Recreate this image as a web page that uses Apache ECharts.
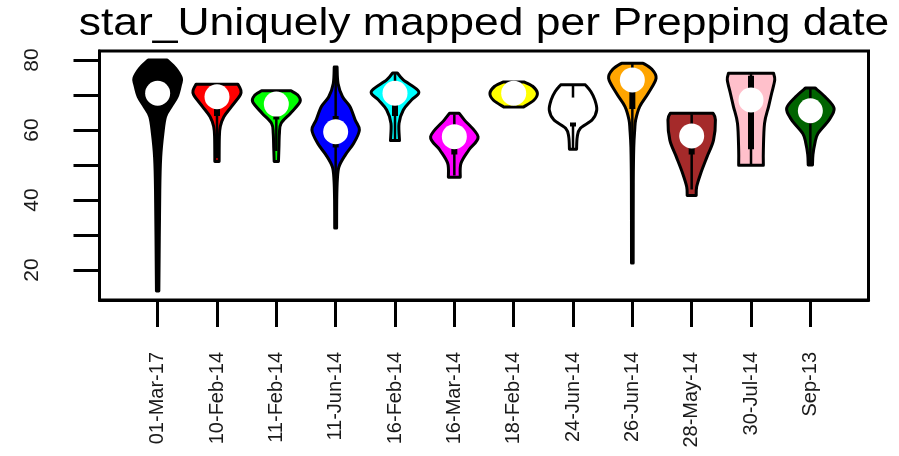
<!DOCTYPE html>
<html>
<head>
<meta charset="utf-8">
<script src="https://cdn.jsdelivr.net/npm/echarts@6/dist/echarts.min.js"></script>
<style>
html,body{margin:0;padding:0;background:#fff;}
#chart{width:899px;height:456px;}
</style>
</head>
<body>
<div id="chart"></div>
<script>
// ---- data ----
const titleText = 'star_Uniquely mapped per Prepping date';
const categories = ['01-Mar-17','10-Feb-14','11-Feb-14','11-Jun-14','16-Feb-14','16-Mar-14','18-Feb-14','24-Jun-14','26-Jun-14','28-May-14','30-Jul-14','Sep-13'];
const yTicks = [20, 30, 40, 50, 60, 70, 80];
const yLabels = [20, 40, 60, 80];
const medians      = [70.5, 69.5, 67.4, 59.5, 70.5, 58.1, 70.5, 65.7, 74.3, 58.3, 68.6, 65.5];
const q1s          = [66.0, 64.0, 63.0, 55.0, 64.0, 53.0, 69.0, 61.0, 66.0, 53.0, 54.5, 62.0];
const q3s          = [74.0, 72.0, 70.0, 64.0, 72.5, 61.0, 72.0, 69.0, 77.0, 61.0, 75.5, 68.0];
const whiskerLow   = [55.0, 52.0, 54.0, 44.0, 57.0, 47.0, 67.0, 54.5, 55.0, 43.0, 50.0, 50.0];
const whiskerHigh  = [80.0, 73.0, 71.0, 77.0, 76.0, 64.5, 73.5, 73.0, 79.0, 64.5, 76.0, 72.0];
// density profile per violin: [value, relative density]
const density01Mar17 = [[14,0.05],[42.9,0.09],[52.4,0.13],[59,0.22],[63.8,0.33],[66.7,0.57],[69.5,0.82],[72.9,0.96],[74.8,1.0],[77.6,0.76],[80,0.4]];
const density10Feb14 = [[51,0.09],[58,0.1],[61,0.14],[63.8,0.29],[66.7,0.61],[70,0.98],[71.5,1.0],[73.1,0.88]];
const density11Feb14 = [[51,0.09],[55,0.11],[59,0.13],[61.9,0.2],[64.8,0.6],[68.1,1.0],[70,0.9],[71.2,0.62]];
const density11Jun14 = [[32,0.04],[40,0.045],[45.7,0.07],[49.5,0.14],[52.9,0.41],[56.2,0.76],[60,1.0],[62.9,0.82],[66.7,0.6],[69.5,0.29],[73.3,0.1],[78,0.06]];
const density16Feb14 = [[57,0.19],[61.9,0.17],[65.7,0.35],[68.6,0.7],[71,1.0],[74.3,0.35],[76.3,0.1]];
const density16Mar14 = [[46.5,0.25],[50.5,0.28],[54.3,0.61],[58.1,1.0],[62.9,0.42],[64.8,0.2]];
const density18Feb14 = [[66.6,0.42],[68.5,0.85],[70.5,1.0],[72.5,0.8],[73.7,0.45]];
const density24Jun14 = [[54.5,0.15],[58.1,0.18],[60.5,0.31],[62.9,0.81],[65.7,1.0],[68.6,0.92],[71,0.75],[72.9,0.52]];
const density26Jun14 = [[22,0.035],[45,0.04],[55,0.06],[60,0.1],[62.9,0.14],[66.7,0.31],[70.5,0.67],[74.8,1.0],[77.5,0.8],[79.1,0.45]];
const density28May14 = [[41.3,0.19],[43.8,0.21],[47.6,0.38],[52.4,0.65],[57.1,0.92],[62.9,1.0],[64.8,0.9]];
const density30Jul14 = [[49.9,0.52],[54.3,0.52],[61.9,0.57],[66.7,0.74],[70.5,0.87],[74.3,1.0],[76.2,0.95]];
const densitySep13   = [[50,0.09],[53,0.11],[56.2,0.19],[59,0.32],[62.9,0.79],[66.2,1.0],[69.5,0.62],[72,0.2]];
const densities = [density01Mar17, density10Feb14, density11Feb14, density11Jun14, density16Feb14, density16Mar14,
                   density18Feb14, density24Jun14, density26Jun14, density28May14, density30Jul14, densitySep13];
const fillColors = ['#000000','#ff0000','#00ff00','#0000ff','#00ffff','#ff00ff','#ffff00','#ffffff','#ffa500','#a52a2a','#ffc0cb','#006400'];

// ---- chart ----
const chart = echarts.init(document.getElementById('chart'), null, {renderer: 'canvas'});
const FONT = '"Liberation Sans", Arial, Helvetica, sans-serif';
const xPositions = categories.map((c, i) => i + 1);

// smooth outline through given screen points (Catmull-Rom as cubic Beziers)
function splineSegs(pts) {
  let d = '';
  for (let i = 0; i < pts.length - 1; i++) {
    const p0 = pts[i - 1] || pts[i], p1 = pts[i], p2 = pts[i + 1], p3 = pts[i + 2] || pts[i + 1];
    const c1 = [p1[0] + (p2[0] - p0[0]) / 6, p1[1] + (p2[1] - p0[1]) / 6];
    const c2 = [p2[0] - (p3[0] - p1[0]) / 6, p2[1] - (p3[1] - p1[1]) / 6];
    d += ' C' + c1[0].toFixed(2) + ' ' + c1[1].toFixed(2) + ' ' + c2[0].toFixed(2) + ' ' + c2[1].toFixed(2) + ' ' + p2[0].toFixed(2) + ' ' + p2[1].toFixed(2);
  }
  return d;
}

const option = {
  animation: false,
  backgroundColor: '#ffffff',
  graphic: [{
    type: 'text',
    x: 484, y: 25,
    scaleX: 1.17,
    style: {
      text: titleText,
      fontFamily: FONT,
      fontSize: 38,
      fill: '#000',
      textAlign: 'center',
      textVerticalAlign: 'middle'
    }
  }],
  grid: {
    left: 99.5, right: 30.5, top: 51, bottom: 156,
    show: true, borderColor: '#000', borderWidth: 3, backgroundColor: 'transparent'
  },
  xAxis: {
    type: 'value', min: 0.02, max: 12.98,
    splitLine: {show: false},
    axisLine: {show: true, onZero: false, lineStyle: {color: '#000', width: 3}},
    axisTick: {show: true, customValues: xPositions, length: 27, lineStyle: {color: '#000', width: 3}},
    axisLabel: {
      show: true, customValues: xPositions, rotate: 90, margin: 52,
      fontFamily: FONT, fontSize: 20, color: '#1a1a1a',
      formatter: v => categories[Math.round(v) - 1] || ''
    }
  },
  yAxis: {
    type: 'value', min: 11.43, max: 82.57,
    splitLine: {show: false},
    axisLine: {show: true, onZero: false, lineStyle: {color: '#000', width: 3}},
    axisTick: {show: true, customValues: yTicks, length: 26, lineStyle: {color: '#000', width: 3}},
    axisLabel: {
      show: true, customValues: yLabels, rotate: 90, margin: 57,
      fontFamily: FONT, fontSize: 21, color: '#1a1a1a'
    }
  },
  series: [{
    type: 'custom',
    coordinateSystem: 'cartesian2d',
    clip: false,
    data: categories.map((c, i) => [i + 1, medians[i]]),
    encode: {x: 0, y: 1},
    renderItem: function (params, api) {
      const idx = params.dataIndex;
      const pos = api.value(0);
      const cx = api.coord([pos, medians[idx]])[0];
      const halfW = api.size([0.4, 0])[0];
      const prof = densities[idx];
      const right = prof.map(p => [cx + p[1] * halfW, api.coord([pos, p[0]])[1]]);
      const left = prof.slice().reverse().map(p => [cx - p[1] * halfW, api.coord([pos, p[0]])[1]]);
      const pathData = 'M' + right[0][0].toFixed(2) + ' ' + right[0][1].toFixed(2) + splineSegs(right) +
        ' L' + left[0][0].toFixed(2) + ' ' + left[0][1].toFixed(2) + splineSegs(left) + ' Z';
      const yQ1 = api.coord([pos, q1s[idx]])[1];
      const yQ3 = api.coord([pos, q3s[idx]])[1];
      const yWl = api.coord([pos, whiskerLow[idx]])[1];
      const yWh = api.coord([pos, whiskerHigh[idx]])[1];
      const yMed = api.coord([pos, medians[idx]])[1];
      return {
        type: 'group',
        children: [
          {type: 'path', shape: {pathData: pathData},
           style: {fill: fillColors[idx], stroke: '#000', lineWidth: 3, lineJoin: 'round'}},
          {type: 'line', shape: {x1: cx, y1: yWl, x2: cx, y2: yWh},
           style: {stroke: '#000', lineWidth: 2.5}},
          {type: 'rect', shape: {x: cx - 3, y: yQ3, width: 6, height: yQ1 - yQ3},
           style: {fill: '#000'}},
          {type: 'circle', shape: {cx: cx, cy: yMed, r: 12.5},
           style: {fill: '#ffffff'}}
        ]
      };
    }
  }]
};
chart.setOption(option);
</script>
</body>
</html>
